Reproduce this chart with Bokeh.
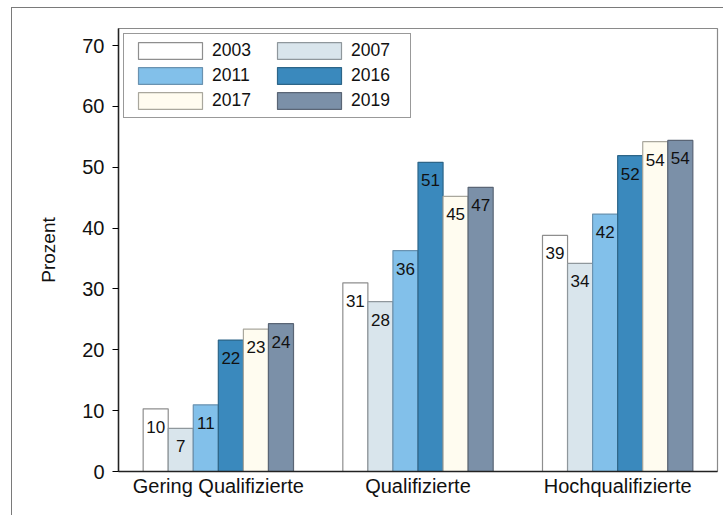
from bokeh.plotting import figure
from bokeh.models import (ColumnDataSource, FactorRange, Range1d, FixedTicker,
                          Legend, LegendItem)
from bokeh.transform import dodge
from bokeh.core.properties import value
from bokeh.embed import file_html
from bokeh.resources import INLINE

categories = ["Gering Qualifizierte", "Qualifizierte", "Hochqualifizierte"]
years = ["2003", "2007", "2011", "2016", "2017", "2019"]
v2003 = [10.3, 31.0, 38.8]
v2007 = [7.1, 27.9, 34.2]
v2011 = [10.95, 36.3, 42.3]
v2016 = [21.6, 50.8, 51.9]
v2017 = [23.4, 45.2, 54.2]
v2019 = [24.3, 46.7, 54.4]
y_ticks = [0, 10, 20, 30, 40, 50, 60, 70]

series = [v2003, v2007, v2011, v2016, v2017, v2019]
fills = ["#ffffff", "#d9e5ec", "#82c0ea", "#3a89bd", "#fffcf0", "#7b90a8"]
lines = ["#8e8e8e", "#8f979c", "#6a92b0", "#2d6588", "#a9a79d", "#5a6575"]

FONT = "Liberation Sans"

p = figure(x_range=FactorRange(*categories, range_padding=0),
           y_range=Range1d(0, 72.8),
           width=712, height=508, output_backend="svg", toolbar_location=None,
           min_border_left=106, min_border_top=20, min_border_right=7,
           min_border_bottom=45)
p.styles = {"margin-left": "11px", "margin-top": "7px",
            "border-left": "1.5px solid #7a7a7a", "border-top": "1.5px solid #7a7a7a"}

bw = 0.1255
renderers = []
for i, (yr, vals) in enumerate(zip(years, series)):
    off = (i - 2.5) * bw
    src = ColumnDataSource(dict(cat=categories, val=vals,
                                lab=[str(int(round(v))) for v in vals]))
    r = p.vbar(x=dodge("cat", off, range=p.x_range), top="val", width=bw,
               source=src, fill_color=fills[i], line_color=lines[i], line_width=1.2)
    renderers.append(r)
    p.text(x=dodge("cat", off, range=p.x_range), y="val", text="lab", source=src,
           text_align="center", text_baseline="top", y_offset=12,
           text_font=value(FONT), text_font_size="17px", text_color="#111111")

order = [0, 2, 4, 1, 3, 5]
legend = Legend(items=[LegendItem(label=years[k], renderers=[renderers[k]]) for k in order],
                location="top_left", ncols=2, margin=5, padding=6,
                glyph_width=80, glyph_height=21, label_standoff=2, spacing=4,
                label_width=53,
                label_text_font=FONT, label_text_font_size="17.5px",
                label_text_color="#111111",
                border_line_color="#333333", border_line_width=1,
                background_fill_alpha=1)
p.add_layout(legend, "center")

p.xgrid.grid_line_color = None
p.ygrid.grid_line_color = None
p.outline_line_color = "#8a8a8a"
p.outline_line_width = 1.2

p.yaxis.ticker = FixedTicker(ticks=y_ticks)
p.yaxis.axis_label = "Prozent"
p.yaxis.axis_label_standoff = 20
p.yaxis.axis_label_text_font = FONT
p.yaxis.axis_label_text_font_style = "normal"
p.yaxis.axis_label_text_font_size = "19px"
p.yaxis.axis_label_text_color = "#111111"
p.yaxis.major_label_text_font = FONT
p.yaxis.major_label_text_font_size = "20px"
p.yaxis.major_label_text_color = "#111111"
p.yaxis.major_tick_out = 6
p.yaxis.major_tick_in = 0
p.yaxis.minor_tick_line_color = None
p.yaxis.major_label_standoff = 8
p.yaxis.axis_line_color = "#222222"
p.yaxis.axis_line_width = 1.5

p.xaxis.major_tick_line_color = None
p.xaxis.major_tick_out = 0
p.xaxis.major_tick_in = 0
p.xaxis.minor_tick_line_color = None
p.xaxis.major_label_standoff = 3
p.xaxis.major_label_text_font = FONT
p.xaxis.major_label_text_font_size = "20px"
p.xaxis.major_label_text_color = "#111111"
p.xaxis.axis_line_color = "#222222"
p.xaxis.axis_line_width = 1.5

open("out.html", "w").write(file_html(p, INLINE))
